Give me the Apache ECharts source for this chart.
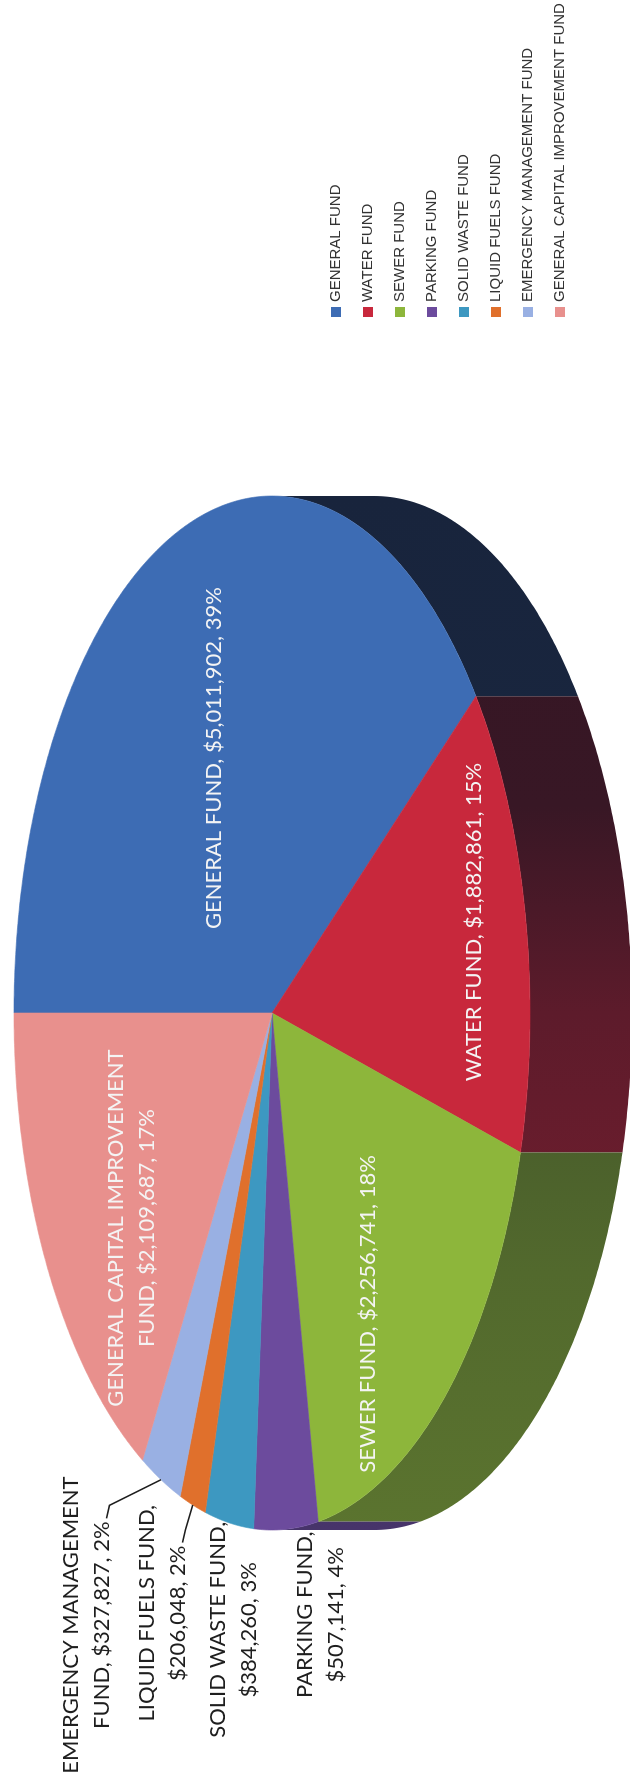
<!DOCTYPE html>
<html>
<head>
<meta charset="utf-8">
<script src="https://cdn.jsdelivr.net/npm/echarts@6/dist/echarts.min.js"></script>
<style>
html,body{margin:0;padding:0;background:#fff;overflow:hidden;width:630px;height:1775px;}
#frame{position:absolute;left:0;top:0;width:630px;height:1775px;overflow:hidden;background:#fff;}
#chart{position:absolute;left:0;top:0;width:1775px;height:630px;transform-origin:0 0;transform:translate(0px,1775px) rotate(-90deg);}
</style>
</head>
<body>
<div id="frame"><div id="chart"></div></div>
<script>
// ---------------- DATA ----------------
const categories = [
  'GENERAL FUND',
  'WATER FUND',
  'SEWER FUND',
  'PARKING FUND',
  'SOLID WASTE FUND',
  'LIQUID FUELS FUND',
  'EMERGENCY MANAGEMENT FUND',
  'GENERAL CAPITAL IMPROVEMENT FUND'
];
const values = [5011902, 1882861, 2256741, 507141, 384260, 206048, 327827, 2109687];
const percentLabels = ['39%', '15%', '18%', '4%', '3%', '2%', '2%', '17%'];

// ---------------- STYLE / LAYOUT ----------------
const colors = ['#3d6cb4', '#c8283c', '#8db63b', '#6c4b9d', '#3d98c1', '#e0702c', '#99b0e3', '#e8908d'];
// chart drawn in a 1775 x 630 landscape frame, rotated -90deg onto the page
const CX = 762, CY = 272, RX = 517, RY = 258, DEPTH = 102;
const LABEL_FONT = 'Lato';
const LABEL_SIZE = 22;
const LINE_H = 31;
// wall shading: share of the slice colour kept, from the far right (t=0) to the far left (t=1)
const WALL_DARK = [15, 18, 30];
const wallShade = [[0, 0.2], [0.3, 0.22], [0.5, 0.42], [0.75, 0.53], [1, 0.6]];
// label centre offsets relative to the pie centre, in units of the radii
const labelLayout = [
  { du: 0.493, dv: -0.225, inside: true, words: 0 },
  { du: 0.176, dv: 0.783, inside: true, words: 0 },
  { du: -0.582, dv: 0.372, inside: true, words: 0 },
  { du: -1.164, dv: 0.186, inside: false, words: 2 },
  { du: -1.193, dv: -0.151, inside: false, words: 3 },
  { du: -1.161, dv: -0.426, inside: false, words: 3, leader: true },
  { du: -1.184, dv: -0.721, inside: false, words: 2, leader: true },
  { du: -0.416, dv: -0.543, inside: true, words: 3 }
];

const total = values.reduce((a, b) => a + b, 0);
const startFrac = [];
(function () { let acc = 0; values.forEach(v => { startFrac.push(acc / total); acc += v; }); })();

function ang(frac) { return -Math.PI / 2 + frac * 2 * Math.PI; }
function pt(t, dz) { return [CX + RX * Math.cos(t), CY + RY * Math.sin(t) + (dz || 0)]; }
function arc(t0, t1, dz) {
  const n = Math.max(2, Math.ceil(Math.abs(t1 - t0) / (Math.PI / 360)));
  const out = [];
  for (let i = 0; i <= n; i++) out.push(pt(t0 + (t1 - t0) * i / n, dz));
  return out;
}
function hexToRgb(h) {
  const n = parseInt(h.slice(1), 16);
  return [(n >> 16) & 255, (n >> 8) & 255, n & 255];
}
function wallFill(hex) {
  const c = hexToRgb(hex);
  const stops = wallShade.map(([t, k]) => {
    const rgb = c.map((x, j) => Math.min(255, Math.round(x * k + WALL_DARK[j] * (1 - k))));
    return { offset: t, color: 'rgb(' + rgb.join(',') + ')' };
  });
  return new echarts.graphic.LinearGradient(CX + RX, 0, CX - RX, 0, stops, true);
}
function labelText(i) {
  const full = categories[i] + ', $' + values[i].toLocaleString('en-US') + ', ' + percentLabels[i];
  const n = labelLayout[i].words;
  if (!n) return full;
  const w = full.split(' ');
  return w.slice(0, n).join(' ') + '\n' + w.slice(n).join(' ');
}
const measureCtx = document.createElement('canvas').getContext('2d');
measureCtx.font = LABEL_SIZE + 'px ' + LABEL_FONT;

function makeRender(i) {
  return function (params, api) {
    const f0 = startFrac[i], f1 = startFrac[i] + values[i] / total;
    const t0 = ang(f0), t1 = ang(f1);
    const children = [];
    const a = Math.max(t0, 0), b = Math.min(t1, Math.PI);
    if (b > a) {
      children.push({
        type: 'polygon',
        shape: { points: arc(a, b, 0).concat(arc(b, a, DEPTH)) },
        style: { fill: wallFill(colors[i]), stroke: null },
        z2: 1
      });
    }
    children.push({
      type: 'polygon',
      shape: { points: [[CX, CY]].concat(arc(t0, t1, 0)) },
      style: { fill: colors[i], stroke: colors[i], lineWidth: 0.6 },
      z2: 2
    });
    const L = labelLayout[i];
    const lx = CX + L.du * RX, ly = CY + L.dv * RY;
    const txt = labelText(i);
    children.push({
      type: 'text',
      x: lx, y: ly,
      style: {
        text: txt,
        fill: L.inside ? '#f4f4f4' : '#1e1e1e',
        font: LABEL_SIZE + 'px ' + LABEL_FONT,
        align: 'center',
        verticalAlign: 'middle',
        lineHeight: LINE_H
      },
      z2: 100
    });
    if (L.leader) {
      const lines = txt.split('\n');
      const last = lines[lines.length - 1];
      const w = measureCtx.measureText(last).width;
      const yLast = ly + (lines.length - 1) * LINE_H / 2;
      const uEnd = lx + w / 2;
      const edge = pt(ang((f0 + f1) / 2), 0);
      children.push({
        type: 'polyline',
        shape: { points: [[uEnd + 3, yLast + 5], [uEnd + 16, yLast + 8], edge] },
        style: { stroke: '#1e1e1e', lineWidth: 1.6, fill: null },
        z2: 100
      });
    }
    return { type: 'group', children: children };
  };
}

const chart = echarts.init(document.getElementById('chart'), null, { renderer: 'canvas', width: 1775, height: 630 });
const series = categories.map((name, i) => ({
  type: 'custom',
  name: name,
  coordinateSystem: 'none',
  silent: true,
  animation: false,
  itemStyle: { color: colors[i] },
  data: [values[i]],
  renderItem: makeRender(i)
}));

chart.setOption({
  backgroundColor: '#ffffff',
  animation: false,
  color: colors,
  legend: {
    orient: 'vertical',
    left: 1453,
    top: 323,
    itemWidth: 10,
    itemHeight: 10,
    itemGap: 16,
    icon: 'rect',
    selectedMode: false,
    textStyle: { fontFamily: 'Liberation Sans', fontSize: 15, lineHeight: 16, color: '#333333' },
    data: categories
  },
  series: series
});
</script>
</body>
</html>
